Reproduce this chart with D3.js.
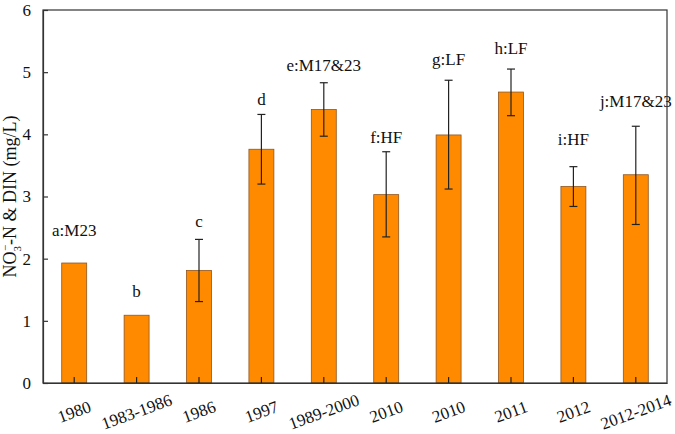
<!DOCTYPE html>
<html>
<head>
<meta charset="utf-8">
<script src="https://cdn.jsdelivr.net/npm/d3@7"></script>
<style>
  body { margin: 0; background: #fff; }
  svg { display: block; }
  text { font-family: "Liberation Serif", "Times New Roman", serif; fill: #111; }
</style>
</head>
<body>
<svg id="chart" width="675" height="434"></svg>
<script>
const categories = ["1980", "1983-1986", "1986", "1997", "1989-2000", "2010", "2010", "2011", "2012", "2012-2014"];
const values     = [1.93, 1.09, 1.81, 3.76, 4.40, 3.03, 3.99, 4.68, 3.16, 3.35];
const errLow     = [null, null, 1.31, 3.20, 3.97, 2.35, 3.12, 4.30, 2.84, 2.55];
const errHigh    = [null, null, 2.31, 4.32, 4.83, 3.72, 4.87, 5.05, 3.48, 4.13];
const labels     = ["a:M23", "b", "c", "d", "e:M17&23", "f:HF", "g:LF", "h:LF", "i:HF", "j:M17&23"];
const labelAt    = [2.36, 1.38, 2.51, 4.47, 5.02, 3.86, 5.11, 5.29, 3.83, 4.44];
const yTicks     = [0, 1, 2, 3, 4, 5, 6];

const margin = { left: 43, right: 8, top: 10, bottom: 51 };
const W = 675, H = 434;
const svg = d3.select("#chart");
const g = svg.append("g");

const x = d3.scaleBand()
  .domain(d3.range(categories.length))
  .range([margin.left, W - margin.right])
  .paddingInner(0.6).paddingOuter(0.3);
const y = d3.scaleLinear().domain([0, 6]).range([H - margin.bottom, margin.top]);

const data = categories.map((c, i) => ({ i, c, v: values[i], lo: errLow[i], hi: errHigh[i], lab: labels[i], la: labelAt[i] }));

// bars
g.selectAll("rect.bar").data(data).enter().append("rect")
  .attr("x", d => x(d.i))
  .attr("width", x.bandwidth())
  .attr("y", d => y(d.v))
  .attr("height", d => y(0) - y(d.v))
  .attr("fill", "#FF8A00")
  .attr("stroke", "#8f5520")
  .attr("stroke-width", 0.8);

// error bars
const eb = data.filter(d => d.lo != null);
const cap = 4;
const cx = d => x(d.i) + x.bandwidth() / 2;
g.selectAll("line.err").data(eb).enter().append("line")
  .attr("x1", cx).attr("x2", cx)
  .attr("y1", d => y(d.lo)).attr("y2", d => y(d.hi))
  .attr("stroke", "#222").attr("stroke-width", 1.2);
g.selectAll("line.capT").data(eb).enter().append("line")
  .attr("x1", d => cx(d) - cap).attr("x2", d => cx(d) + cap)
  .attr("y1", d => y(d.hi)).attr("y2", d => y(d.hi))
  .attr("stroke", "#222").attr("stroke-width", 1.2);
g.selectAll("line.capB").data(eb).enter().append("line")
  .attr("x1", d => cx(d) - cap).attr("x2", d => cx(d) + cap)
  .attr("y1", d => y(d.lo)).attr("y2", d => y(d.lo))
  .attr("stroke", "#222").attr("stroke-width", 1.2);

// labels
g.selectAll("text.lab").data(data).enter().append("text")
  .attr("x", cx)
  .attr("y", d => y(d.la))
  .attr("text-anchor", "middle")
  .attr("font-size", 17)
  .text(d => d.lab);

// frame
g.append("rect")
  .attr("x", margin.left).attr("y", margin.top)
  .attr("width", W - margin.right - margin.left)
  .attr("height", H - margin.bottom - margin.top)
  .attr("fill", "none").attr("stroke", "#333").attr("stroke-width", 1.2);

// y axis
const yAxis = d3.axisLeft(y).tickValues(yTicks).tickFormat(d3.format("d")).tickSizeInner(-5).tickSizeOuter(0).tickPadding(12);
const ya = g.append("g").attr("transform", `translate(${margin.left},0)`).call(yAxis);
ya.select(".domain").attr("stroke", "#333").attr("stroke-width", 1.2);
ya.selectAll(".tick line").attr("stroke", "#333").attr("stroke-width", 1.2);
ya.selectAll(".tick text").attr("font-size", 17).attr("font-family", "Liberation Serif").attr("fill", "#111");

// x axis
const xAxis = d3.axisBottom(x).tickFormat(i => categories[i]).tickSizeInner(-6).tickSizeOuter(0).tickPadding(0);
const xa = g.append("g").attr("transform", `translate(0,${H - margin.bottom})`).call(xAxis);
xa.select(".domain").attr("stroke", "#333").attr("stroke-width", 1.2);
xa.selectAll(".tick line").attr("stroke", "#222").attr("stroke-width", 1.2);
xa.selectAll(".tick text")
  .attr("font-size", 17).attr("font-family", "Liberation Serif").attr("fill", "#111")
  .attr("text-anchor", "middle")
  .attr("y", 0)
  .attr("dy", "0.35em")
  .attr("transform", "translate(0,28.5) rotate(-20)");

// y label
const yl = svg.append("text")
  .attr("transform", `translate(16,${(y(0) + y(6)) / 2}) rotate(-90)`)
  .attr("text-anchor", "middle")
  .attr("font-size", 18);
yl.append("tspan").text("NO");
yl.append("tspan").attr("font-size", 11).attr("dy", 5).text("3");
yl.append("tspan").attr("font-size", 11).attr("dy", -12).attr("dx", -5).text("−");
yl.append("tspan").attr("dy", 7).text("-N & DIN (mg/L)");
</script>
</body>
</html>
